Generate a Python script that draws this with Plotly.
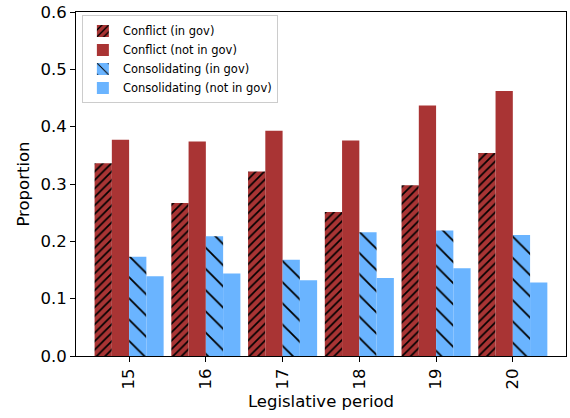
import plotly.graph_objects as go

periods = [15, 16, 17, 18, 19, 20]
conflict_in_gov = [0.336, 0.267, 0.322, 0.251, 0.298, 0.354]
conflict_not_in_gov = [0.377, 0.374, 0.393, 0.376, 0.437, 0.462]
consolidating_in_gov = [0.173, 0.209, 0.168, 0.216, 0.219, 0.211]
consolidating_not_in_gov = [0.139, 0.144, 0.132, 0.136, 0.153, 0.128]
y_ticks = [0.0, 0.1, 0.2, 0.3, 0.4, 0.5, 0.6]

RED = "#A93434"
BLUE = "#6AB4FF"

fig = go.Figure()

# (label, values, colour, hatch shape, hatch tile size, hatch solidity)
series = [
    ("Conflict (in gov)", conflict_in_gov, RED, "/", 6, 0.28),
    ("Conflict (not in gov)", conflict_not_in_gov, RED, "", 0, 0),
    ("Consolidating (in gov)", consolidating_in_gov, BLUE, "\\", 15, 0.12),
    ("Consolidating (not in gov)", consolidating_not_in_gov, BLUE, "", 0, 0),
]

for name, vals, color, shape, size, solidity in series:
    marker = dict(color=color, line=dict(width=0))
    if shape:
        marker["pattern"] = dict(shape=shape, fgcolor="black", bgcolor=color,
                                 size=size, solidity=solidity, fillmode="replace")
    fig.add_trace(go.Bar(x=periods, y=vals, name=name, marker=marker))

fig.update_layout(
    width=570, height=418,
    margin=dict(l=76, r=3, t=10, b=62),
    paper_bgcolor="white", plot_bgcolor="white",
    barmode="group", bargap=0.1, bargroupgap=0,
    font=dict(family="DejaVu Sans", color="black"),
    showlegend=True,
    legend=dict(
        x=0.012, y=0.99, xanchor="left", yanchor="top",
        bgcolor="rgba(255,255,255,0.8)", bordercolor="#CCCCCC", borderwidth=1,
        font=dict(size=11.5, family="DejaVu Sans"),
        tracegroupgap=0, itemwidth=30,
    ),
)

fig.update_xaxes(
    range=[14.308, 20.693],
    tickmode="array", tickvals=periods, ticktext=[str(p) for p in periods],
    tickangle=-90, tickfont=dict(size=16.5),
    title=dict(text="Legislative period", font=dict(size=16.5), standoff=6),
    showline=True, linecolor="black", linewidth=1, mirror=True,
    ticks="outside", ticklen=5, tickcolor="black",
    showgrid=False, zeroline=False,
)
fig.update_yaxes(
    range=[0, 0.6],
    tickmode="array", tickvals=y_ticks, ticktext=[f"{v:.1f}" for v in y_ticks],
    tickfont=dict(size=16.5),
    title=dict(text="Proportion", font=dict(size=16.5), standoff=6),
    showline=True, linecolor="black", linewidth=1, mirror=True,
    ticks="outside", ticklen=5, tickcolor="black",
    showgrid=False, zeroline=False,
)

fig.write_html("out.html")
